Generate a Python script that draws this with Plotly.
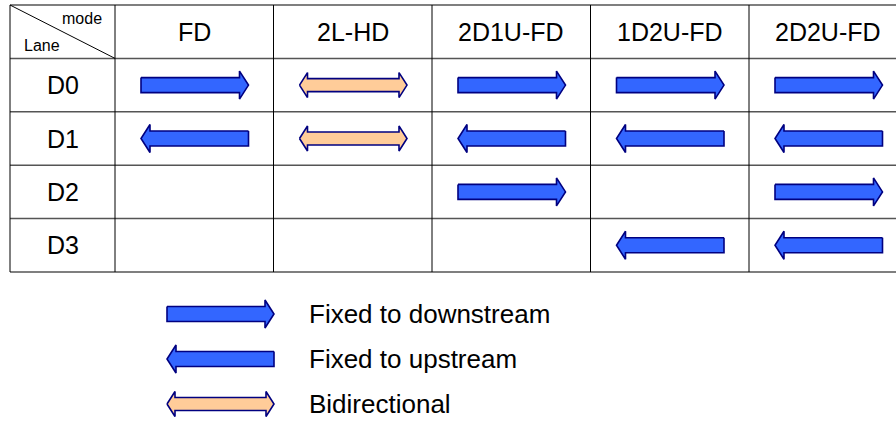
import plotly.graph_objects as go

# ---- data ----
modes = ["FD", "2L-HD", "2D1U-FD", "1D2U-FD", "2D2U-FD"]
lanes = ["D0", "D1", "D2", "D3"]
# direction of each lane per mode: "down", "up", "bi" or None
directions = {
    "FD":      ["down", "up", None, None],
    "2L-HD":   ["bi", "bi", None, None],
    "2D1U-FD": ["down", "up", "down", None],
    "1D2U-FD": ["down", "up", None, "up"],
    "2D2U-FD": ["down", "up", "down", "up"],
}
legend_kinds = ["down", "up", "bi"]
legend_labels = ["Fixed to downstream", "Fixed to upstream", "Bidirectional"]
corner_top = "mode"
corner_bottom = "Lane"

# ---- layout constants (pixel units on the axes) ----
W, H = 896, 434
LEFT, LANE_RIGHT, COL_W = 10, 115, 158.5
TOP, HEAD_H, ROW_H = 5, 53.4, 53.4
FONT = "Arial, Liberation Sans, sans-serif"
BLUE, ORANGE, NAVY = "#3366FF", "#FFCC99", "#000080"


def arrow_path(x0, x1, yc, kind):
    if kind == "bi":
        sh, hh, hl = 6.5, 12.5, 8
        xs = [x0, x0 + hl, x0 + hl, x1 - hl, x1 - hl, x1, x1 - hl, x1 - hl, x0 + hl, x0 + hl, x0]
        ys = [yc, yc - hh, yc - sh, yc - sh, yc - hh, yc, yc + hh, yc + sh, yc + sh, yc + hh, yc]
    elif kind == "down":
        sh, hh, hl = 7.5, 14, 9
        xs = [x0, x1 - hl, x1 - hl, x1, x1 - hl, x1 - hl, x0, x0]
        ys = [yc - sh, yc - sh, yc - hh, yc, yc + hh, yc + sh, yc + sh, yc - sh]
    else:
        sh, hh, hl = 7.5, 14, 9
        xs = [x1, x0 + hl, x0 + hl, x0, x0 + hl, x0 + hl, x1, x1]
        ys = [yc - sh, yc - sh, yc - hh, yc, yc + hh, yc + sh, yc + sh, yc - sh]
    return xs, ys


fig = go.Figure()


def add_arrow(x0, x1, yc, kind):
    xs, ys = arrow_path(x0, x1, yc, kind)
    fig.add_trace(go.Scatter(
        x=xs, y=ys, mode="lines", fill="toself",
        fillcolor=ORANGE if kind == "bi" else BLUE,
        line=dict(color=NAVY, width=1.6), hoverinfo="skip", showlegend=False))


ncols = len(modes)
nrows = len(lanes)
right = LANE_RIGHT + ncols * COL_W
bottom = TOP + HEAD_H + nrows * ROW_H

shapes = []
ys_lines = [TOP, TOP + HEAD_H] + [TOP + HEAD_H + (i + 1) * ROW_H for i in range(nrows)]
for y in ys_lines:
    shapes.append(dict(type="line", x0=LEFT, x1=right, y0=y, y1=y,
                       line=dict(color="#555555", width=1.5)))
xs_lines = [LEFT, LANE_RIGHT] + [LANE_RIGHT + (j + 1) * COL_W for j in range(ncols)]
for x in xs_lines:
    shapes.append(dict(type="line", x0=x, x1=x, y0=TOP, y1=bottom,
                       line=dict(color="#000000", width=1)))
shapes.append(dict(type="line", x0=LEFT, y0=TOP, x1=LANE_RIGHT, y1=TOP + HEAD_H,
                   line=dict(color="#000000", width=1)))

annotations = []
annotations.append(dict(x=104, y=TOP + 13, text=corner_top, showarrow=False,
                        xanchor="right", yanchor="middle", font=dict(family=FONT, size=16, color="black")))
annotations.append(dict(x=22, y=TOP + 40, text=corner_bottom, showarrow=False,
                        xanchor="left", yanchor="middle", font=dict(family=FONT, size=16, color="black")))

for j, m in enumerate(modes):
    cx = LANE_RIGHT + (j + 0.5) * COL_W
    annotations.append(dict(x=cx, y=TOP + HEAD_H / 2, text=m, showarrow=False,
                            xanchor="center", yanchor="middle", font=dict(family=FONT, size=25, color="black")))
for i, ln in enumerate(lanes):
    cy = TOP + HEAD_H + (i + 0.5) * ROW_H
    annotations.append(dict(x=(LEFT + LANE_RIGHT) / 2, y=cy, text=ln, showarrow=False,
                            xanchor="center", yanchor="middle", font=dict(family=FONT, size=25, color="black")))

for j, m in enumerate(modes):
    cl = LANE_RIGHT + j * COL_W
    for i, kind in enumerate(directions[m]):
        if kind is None:
            continue
        cy = TOP + HEAD_H + (i + 0.5) * ROW_H
        add_arrow(cl + 26, cl + COL_W - 25, cy, kind)

LEG_Y0, LEG_DY = 314, 45
for k, (kind, lab) in enumerate(zip(legend_kinds, legend_labels)):
    yc = LEG_Y0 + k * LEG_DY
    add_arrow(167, 274, yc, kind)
    annotations.append(dict(x=307, y=yc, text=lab, showarrow=False,
                            xanchor="left", yanchor="middle", font=dict(family=FONT, size=26, color="black")))

fig.update_layout(
    width=W, height=H, margin=dict(l=0, r=0, t=0, b=0),
    paper_bgcolor="white", plot_bgcolor="white",
    xaxis=dict(range=[0, W], visible=False, fixedrange=True),
    yaxis=dict(range=[H, 0], visible=False, fixedrange=True),
    shapes=shapes, annotations=annotations, showlegend=False,
)
fig.write_html("out.html", config={"displayModeBar": False},
               post_script="document.body.style.margin='0';document.body.style.padding='0';document.body.style.overflow='hidden';")
